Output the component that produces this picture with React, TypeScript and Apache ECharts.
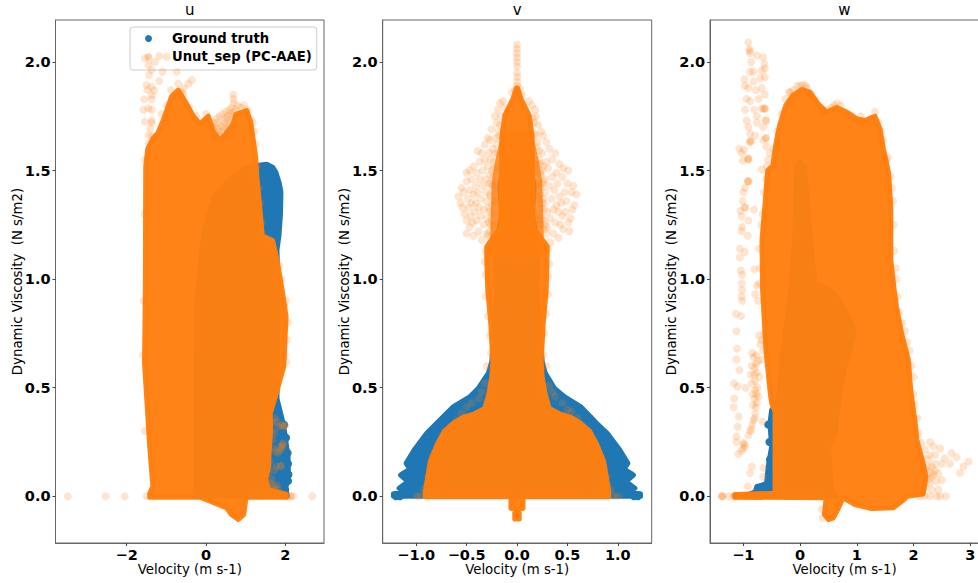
import React, { useEffect, useRef } from "react";
import * as echarts from "echarts";

const BLUE = "#1f77b4";
const ORANGE = "#ff7f0e";
const FONT = "DejaVu Sans";
const TRUTH_NAME = "Ground truth";
const PRED_NAME = "Unut_sep (PC-AAE)";
const panelTitles = ["u", "v", "w"];
const yTicks = [0, 0.5, 1, 1.5, 2];
const uTicks = [-2, 0, 2];
const vTicks = [-1, -0.5, 0, 0.5, 1];
const wTicks = [-1, 0, 1, 2, 3];

const uTruthOutline = [[-0.25,0.0],[-0.24,0.9],[-0.21,0.95],[-0.05,1.22],[0.2,1.375],[0.54,1.45],[1.03,1.515],[1.28,1.523],[1.53,1.529],[1.68,1.515],[1.76,1.493],[1.85,1.44],[1.89,1.4],[1.88,1.303],[1.84,1.2],[1.79,1.134],[1.82,0.95],[1.8,0.6],[1.79,0.45],[1.96,0.326],[2.04,0.22],[2.07,0.183],[2.08,0.085],[2.01,0.04],[2.05,0.0]];
const uTruthEdge = [[2.06,0.2],[2.07,0.15],[2.08,0.1],[2.07,0.07],[2.0,0.03],[2.02,0.27],[1.97,0.33]];
const uPredOutline = [[-1.42,-0.004],[-1.42,0.014],[-1.34,0.045],[-1.42,0.229],[-1.55,0.612],[-1.53,0.95],[-1.52,1.518],[-1.47,1.6],[-1.33,1.65],[-1.22,1.67],[-1.06,1.74],[-0.87,1.84],[-0.7,1.87],[-0.53,1.82],[-0.32,1.75],[-0.15,1.715],[0.06,1.75],[0.18,1.68],[0.35,1.64],[0.5,1.67],[0.67,1.71],[0.76,1.76],[1.03,1.776],[1.13,1.72],[1.25,1.564],[1.29,1.456],[1.37,1.303],[1.42,1.2],[1.68,1.178],[1.79,1.09],[1.92,0.95],[2.02,0.827],[1.96,0.597],[1.75,0.459],[1.62,0.382],[1.63,0.3],[1.59,0.2],[1.58,0.137],[1.5,0.075],[1.58,0.03],[2.02,0.01],[2.02,-0.004],[1.01,-0.004],[0.98,-0.048],[0.95,-0.084],[0.815,-0.107],[0.64,-0.084],[0.52,-0.053],[-0.15,-0.004]];
const uPredSparse = [[-1.54,2.017],[-1.45,2.02],[-1.18,2.027],[-0.99,2.024],[-1.29,2.0],[-1.45,1.986],[-1.1,1.955],[-1.37,1.963],[-1.44,1.94],[-1.5,1.894],[-1.37,1.886],[-1.48,1.87],[-1.31,1.868],[-1.18,1.912],[-0.74,1.955],[-0.7,1.9],[-0.36,1.917],[-0.445,1.9],[-0.555,1.88],[-0.57,1.85],[-1.37,1.848],[-1.56,1.828],[-1.37,1.828],[-1.58,1.78],[-1.45,1.786],[-1.37,1.78],[-1.54,1.725],[-1.37,1.73],[-1.37,1.72],[-1.41,1.694],[-1.45,1.664],[-1.37,1.659],[-1.45,1.625],[-3.49,0],[-2.53,0],[-2.05,0],[-1.5,0],[2.68,0],[2.14,0],[2.2,0],[2.05,0],[0.69,1.85],[0.69,1.83],[0.7,1.81],[0.14,1.7],[0.2,1.72],[0.27,1.74],[0.34,1.75],[0.42,1.76],[0.5,1.77],[0.58,1.78],[0.65,1.79],[0.75,1.78],[0.3,1.69],[0.38,1.71],[0.46,1.72],[0.54,1.73],[0.62,1.76],[0.24,1.67],[0.36,1.66],[0.5,1.69],[0.58,1.7],[0.1,1.72],[0.17,1.69],[0.22,1.7],[0.29,1.72],[0.33,1.68],[0.4,1.68],[0.44,1.7],[0.48,1.74],[0.55,1.75],[0.6,1.72],[0.66,1.75],[0.7,1.77],[0.8,1.8],[0.88,1.79],[0.96,1.8],[1.05,1.78],[1.12,1.74],[1.25,1.62],[1.22,1.68],[1.18,1.72],[1.29,1.52],[1.33,1.42],[1.37,1.35],[1.41,1.26],[1.61,0.4],[1.74,0.36],[1.82,0.32],[1.99,0.325],[1.99,0.325],[1.91,0.328],[1.93,0.325],[1.78,0.344],[1.95,0.244],[1.93,0.24],[1.87,0.229],[1.9,0.22],[1.74,0.206],[1.82,0.2],[1.85,0.21],[1.93,0.23],[1.61,0.16],[1.9,0.14],[1.88,0.14],[1.78,0.137],[1.57,0.106],[1.53,0.068],[1.655,0.037],[1.74,0.03],[1.82,0.034],[2.12,0],[2.02,0],[1.64,0.3],[1.68,0.26],[1.72,0.12],[1.66,0.08],[1.7,0.22],[1.7,0.05],[1.78,0.05],[1.62,0.06],[1.68,0.34],[1.72,0.29],[1.66,0.42],[2.06,0.8],[2.04,0.72],[1.99,0.65],[1.97,0.88],[2.02,0.9],[2.03,0.62],[1.85,1.06],[1.9,1.0],[-1.59,0.65],[-1.58,0.9],[-1.54,0.3],[-1.55,1.3],[-1.54,1.55],[-1.12,1.76],[-1.0,1.8],[-0.88,1.87],[-0.62,1.86],[-0.42,1.79],[-0.25,1.75],[0.0,1.76]];

const vTruthOutline = [[-1.225,0.0],[-1.226,0.012],[-1.03,0.02],[-1.17,0.037],[-1.08,0.068],[-1.155,0.098],[-1.06,0.126],[-1.1,0.152],[-1.02,0.213],[-0.896,0.29],[-0.797,0.336],[-0.63,0.413],[-0.466,0.459],[-0.383,0.498],[-0.284,0.567],[-0.25,0.62],[-0.2,0.95],[-0.2,1.18],[-0.15,1.3],[-0.17,1.425],[-0.135,1.533],[0.13,1.533],[0.17,1.425],[0.15,1.3],[0.2,1.18],[0.2,0.95],[0.25,0.62],[0.28,0.567],[0.37,0.498],[0.47,0.459],[0.63,0.413],[0.79,0.336],[0.895,0.29],[1.02,0.213],[1.1,0.152],[1.06,0.126],[1.155,0.098],[1.08,0.068],[1.17,0.037],[1.03,0.02],[1.225,0.012],[1.225,0.0]];
const vTruthEdge = [[-1.2,0],[-1.16,0],[-1.13,0.035],[-1.12,0.1],[-1.06,0.145],[-1.0,0.19],[-0.96,0.22],[-0.88,0.27],[-0.82,0.31],[-0.72,0.36],[1.2,0],[1.16,0],[1.13,0.035],[1.12,0.1],[1.06,0.145],[1.0,0.19],[0.96,0.22],[0.88,0.27],[0.82,0.31],[0.72,0.36]];
const vPredOutline = [[-0.91,-0.002],[-0.91,0.02],[-0.86,0.16],[-0.79,0.24],[-0.72,0.3],[-0.62,0.34],[-0.53,0.364],[-0.42,0.38],[-0.32,0.405],[-0.28,0.47],[-0.25,0.55],[-0.24,0.62],[-0.26,0.797],[-0.29,0.95],[-0.3,1.1],[-0.3,1.15],[-0.24,1.19],[-0.16,1.24],[-0.15,1.66],[-0.12,1.755],[-0.04,1.83],[-0.006,1.88],[0.006,1.88],[0.04,1.83],[0.12,1.755],[0.15,1.66],[0.16,1.24],[0.24,1.19],[0.3,1.15],[0.29,0.95],[0.26,0.797],[0.24,0.62],[0.25,0.55],[0.28,0.47],[0.32,0.405],[0.42,0.38],[0.53,0.364],[0.62,0.34],[0.72,0.3],[0.79,0.24],[0.86,0.16],[0.91,0.02],[0.91,-0.002],[0.06,-0.002],[0.06,-0.055],[0.022,-0.06],[0.022,-0.105],[-0.022,-0.105],[-0.022,-0.06],[-0.06,-0.055],[-0.06,-0.002]];
const vPredDenseOutline = [[-0.27,1.1],[-0.26,1.3],[-0.25,1.45],[-0.21,1.56],[-0.15,1.68],[0.15,1.68],[0.21,1.56],[0.25,1.45],[0.26,1.3],[0.27,1.1]];
const vPredBand = [[-0.29,1.2],[-0.28,1.26],[-0.27,1.22],[-0.27,1.31],[-0.26,1.38],[-0.26,1.44],[-0.25,1.27],[-0.25,1.34],[-0.25,1.5],[-0.24,1.41],[-0.24,1.47],[-0.23,1.54],[-0.23,1.24],[-0.22,1.3],[-0.22,1.58],[-0.21,1.43],[-0.21,1.36],[-0.2,1.62],[-0.2,1.52],[-0.19,1.26],[-0.18,1.66],[-0.18,1.4],[-0.17,1.71],[-0.17,1.5],[-0.16,1.75],[0.29,1.21],[0.28,1.25],[0.27,1.23],[0.27,1.32],[0.26,1.37],[0.26,1.45],[0.25,1.28],[0.25,1.35],[0.25,1.5],[0.24,1.42],[0.24,1.48],[0.23,1.53],[0.23,1.25],[0.22,1.29],[0.22,1.59],[0.21,1.44],[0.21,1.37],[0.2,1.63],[0.2,1.53],[0.19,1.27],[0.18,1.67],[0.18,1.39],[0.17,1.72],[0.17,1.51],[0.16,1.74],[-0.31,1.13],[-0.32,1.08],[-0.31,1.02],[-0.31,0.92],[-0.29,0.83],[-0.27,0.74],[-0.26,0.66],[0.31,1.14],[0.32,1.07],[0.31,1.01],[0.31,0.93],[0.29,0.84],[0.27,0.75],[0.26,0.65]];
const vPredSparse = [[0,2.08],[0,2.06],[0,2.04],[0,2.02],[0,2.0],[0,1.98],[0,1.95],[0.005,1.93],[0,1.91],[0,1.89],[-0.19,1.78],[-0.17,1.81],[-0.14,1.82],[-0.12,1.79],[0.12,1.82],[0.15,1.8],[0.18,1.78],[-0.05,1.86],[0.05,1.85],[-0.02,1.87],[0.03,1.88],
[-0.58,1.38],[-0.56,1.35],[-0.55,1.42],[-0.54,1.33],[-0.53,1.4],[-0.52,1.3],[-0.5,1.49],[-0.5,1.45],[-0.5,1.27],[-0.5,1.21],[-0.49,1.37],[-0.48,1.33],[-0.47,1.5],[-0.47,1.41],[-0.47,1.24],[-0.46,1.29],[-0.45,1.46],[-0.45,1.35],[-0.44,1.26],[-0.43,1.52],[-0.43,1.39],[-0.43,1.2],[-0.42,1.31],[-0.41,1.43],[-0.41,1.35],[-0.4,1.49],[-0.4,1.27],[-0.39,1.59],[-0.39,1.4],[-0.38,1.33],[-0.38,1.22],[-0.37,1.46],[-0.37,1.54],[-0.36,1.37],[-0.36,1.29],[-0.35,1.18],[-0.35,1.58],[-0.34,1.43],[-0.34,1.5],[-0.33,1.32],[-0.33,1.25],[-0.32,1.62],[-0.32,1.55],[-0.31,1.4],[-0.31,1.46],[-0.3,1.36],[-0.3,1.28],[-0.3,1.21],[-0.29,1.65],[-0.29,1.52],[-0.28,1.58],[-0.28,1.44],[-0.28,1.33],[-0.27,1.64],[-0.27,1.48],[-0.27,1.39],[-0.26,1.25],[-0.26,1.55],[-0.25,1.69],[-0.25,1.3],[-0.24,1.6],[-0.24,1.43],[-0.23,1.51],[-0.22,1.36],[-0.21,1.65],[-0.2,1.72],[-0.19,1.58],[-0.22,1.75],[-0.18,1.68],
[0.59,1.39],[0.57,1.34],[0.56,1.43],[0.55,1.32],[0.54,1.4],[0.53,1.28],[0.51,1.5],[0.5,1.44],[0.51,1.26],[0.52,1.22],[0.49,1.36],[0.48,1.31],[0.46,1.51],[0.47,1.4],[0.46,1.23],[0.45,1.29],[0.45,1.47],[0.44,1.35],[0.43,1.25],[0.42,1.53],[0.42,1.38],[0.41,1.19],[0.41,1.31],[0.4,1.44],[0.39,1.34],[0.39,1.49],[0.38,1.26],[0.38,1.58],[0.37,1.41],[0.36,1.32],[0.36,1.21],[0.35,1.47],[0.35,1.55],[0.34,1.37],[0.33,1.28],[0.33,1.17],[0.32,1.6],[0.32,1.43],[0.31,1.51],[0.3,1.31],[0.3,1.24],[0.29,1.63],[0.29,1.54],[0.28,1.4],[0.28,1.46],[0.27,1.35],[0.27,1.27],[0.26,1.66],[0.26,1.52],[0.25,1.58],[0.25,1.44],[0.24,1.33],[0.24,1.68],[0.23,1.49],[0.23,1.39],[0.22,1.25],[0.22,1.55],[0.21,1.71],[0.2,1.3],[0.2,1.61],[0.19,1.43],[0.19,1.75],[0.18,1.66],
[-0.99,0],[-0.96,0],[-0.92,0.03],[-0.9,0.05],[-0.88,0.09],[-0.86,0.13],[-0.84,0.18],[-0.82,0.2],[-0.8,0.12],[-0.78,0.08],[-0.76,0.15],[-0.74,0.22],[-0.7,0.05],[-0.68,0.11],[-0.72,0.26],[-0.69,0.3],[-0.66,0.32],[-0.6,0.35],[-0.55,0.38],[-0.5,0.41],[-0.45,0.43],[-0.38,0.45],[-0.35,0.48],[-0.32,0.52],[-0.3,0.6],
[1.0,0],[0.96,0],[0.93,0.03],[0.9,0.05],[0.89,0.09],[0.86,0.13],[0.83,0.18],[0.81,0.2],[0.8,0.12],[0.77,0.08],[0.75,0.15],[0.73,0.22],[0.7,0.05],[0.67,0.11],[0.73,0.27],[0.7,0.3],[0.65,0.32],[0.6,0.36],[0.54,0.39],[0.5,0.4],[0.45,0.43],[0.38,0.46],[0.35,0.48],[0.32,0.51],[0.29,0.6]];

const wTruthOutline = [[-1.0,0.0],[-0.79,0.02],[-0.76,0.045],[-0.59,0.055],[-0.56,0.137],[-0.5,0.228],[-0.53,0.336],[-0.5,0.397],[-0.38,0.443],[-0.32,0.643],[-0.2,0.873],[-0.16,0.95],[-0.09,1.21],[-0.06,1.518],[0,1.538],[0.076,1.518],[0.176,1.21],[0.264,0.98],[0.5,0.957],[0.7,0.9],[0.91,0.797],[0.95,0.735],[0.79,0.597],[0.68,0.443],[0.62,0.29],[0.5,0.229],[0.56,0.03],[0.646,0.0]];
const wTruthEdge = [[-0.56,0.33],[-0.54,0.25],[-0.53,0.17],[-0.55,0.1],[-0.62,0.05],[-0.7,0.04]];
const wPredOutline = [[-1.15,-0.004],[-1.15,0.008],[-0.44,0.014],[-0.44,0.39],[-0.5,0.428],[-0.53,0.49],[-0.6,0.674],[-0.66,0.95],[-0.67,1.18],[-0.61,1.364],[-0.57,1.5],[-0.48,1.523],[-0.42,1.63],[-0.36,1.707],[-0.25,1.8],[-0.13,1.845],[0.03,1.873],[0.176,1.861],[0.32,1.807],[0.47,1.769],[0.646,1.79],[0.82,1.769],[1.0,1.738],[1.145,1.73],[1.32,1.75],[1.41,1.69],[1.47,1.6],[1.56,1.49],[1.6,1.333],[1.6,1.088],[1.66,0.95],[1.7,0.873],[1.79,0.75],[1.91,0.628],[1.95,0.49],[2.03,0.336],[2.06,0.259],[2.17,0.152],[2.22,0.09],[2.17,0.01],[1.89,0.0],[1.8,-0.022],[1.645,-0.053],[1.26,-0.056],[0.97,-0.038],[0.76,-0.007],[0.68,-0.053],[0.587,-0.099],[0.5,-0.107],[0.43,-0.084],[0.46,-0.007]];
const wPredSparse = [[-0.91,2.09],[-0.89,2.06],[-0.88,2.04],[-0.89,2.05],[-0.76,2.03],[-0.65,2.02],[-0.63,1.99],[-0.86,2.0],[-0.675,1.96],[-0.62,1.97],[-0.82,1.955],[-0.88,1.955],[-0.7,1.925],[-0.62,1.93],[-0.98,1.92],[-0.97,1.89],[-0.82,1.91],[-0.91,1.88],[-0.675,1.88],[-0.62,1.85],[-0.78,1.87],[-0.73,1.83],[-0.94,1.83],[-0.88,1.82],[-0.62,1.785],[-0.62,1.785],[-0.64,1.785],[-0.675,1.785],[-0.97,1.78],[-0.81,1.78],[-0.76,1.75],[-0.94,1.73],[-0.6,1.73],[-0.6,1.73],[-0.65,1.7],[-0.91,1.7],[-0.76,1.72],[-0.88,1.67],[-0.79,1.66],[-0.6,1.65],[-0.6,1.65],[-0.65,1.64],[-0.87,1.635],[-0.87,1.635],[-0.89,1.63],[-0.59,1.61],[-1.07,1.6],[-0.99,1.595],[-1.03,1.58],[-0.91,1.555],[-0.91,1.555],[-0.92,1.55],[-1.01,1.545],[-0.56,1.55],[-0.675,1.505],[-0.92,1.45],[-0.92,1.45],[-0.9,1.45],[-0.56,1.44],[-0.97,1.42],[-1.0,1.4],[-1.01,1.36],[-0.97,1.33],[-0.97,1.33],[-1.05,1.315],[-0.81,1.32],[-1.03,1.29],[-0.91,1.27],[-1.02,1.24],[-1.03,1.22],[-0.92,1.2],[-1.06,1.14],[-0.97,1.125],[-1.06,1.1],[-1.04,1.04],[-0.8,1.045],[-1.02,1.02],[-1.03,0.98],[-0.76,0.97],[-1.02,0.95],[-1.03,0.92],[-1.02,0.9],[-0.79,0.93],[-1.13,0.84],[-1.04,0.83],[-1.12,0.76],[-1.11,0.68],[-1.12,0.63],[-1.07,0.58],[-1.16,0.52],[-1.1,0.505],[-0.96,0.5],[-1.16,0.45],[-1.17,0.41],[-1.08,0.367],[-1.1,0.32],[-1.12,0.275],[-1.12,0.25],[-1.0,0.245],[-0.97,0.23],[-0.98,0.24],[-1.03,0.21],[-1.0,0.22],[-1.09,0.195],[-0.88,0.3],[-0.86,0.31],[-0.91,0.28],[-0.82,0.35],[-0.84,0.33],[-0.79,0.38],[-0.8,0.36],[-0.76,0.43],[-0.78,0.41],[-0.79,0.49],[-0.77,0.47],[-0.73,0.46],[-0.85,0.52],[-0.79,0.53],[-0.76,0.57],[-0.85,0.6],[-0.8,0.59],[-0.82,0.64],[-0.78,0.61],[-0.65,0.67],[-0.675,0.63],[-0.7,0.7],[-0.72,0.74],[-0.68,0.72],[-0.63,0.75],[-0.66,0.344],[-0.85,0.137],[-0.88,0.106],[-0.92,0.045],[-0.65,0.13],[-0.65,0.09],[-0.83,0.42],[-0.8,0.45],[-0.81,0.56],[-0.75,0.5],[-0.77,0.65],[-0.74,0.62],[-0.72,0.55],[-0.83,0.47],[-0.87,0.56],[-0.84,0.66],
[2.97,0.16],[2.88,0.137],[2.76,0.18],[2.82,0.107],[2.67,0.2],[2.47,0.22],[2.29,0.25],[2.14,0.245],[2.2,0.215],[2.38,0.19],[2.55,0.175],[2.64,0.15],[2.5,0.15],[2.38,0.15],[2.28,0.19],[2.44,0.105],[2.5,0.075],[2.32,0.09],[2.44,0.03],[2.32,0.03],[2.29,0.06],[2.2,0.045],[2.06,0.045],[2.57,0],[2.47,0],[2.41,0],[2.29,0],[2.2,0],[2.11,0],[2.38,0.12],[2.32,0.137],[2.26,0.17],[2.23,0.12],[2.35,0.23],[2.14,0.18],[2.4,0.07],[2.3,0.11],[2.27,0.08],[2.35,0.1],[2.25,0.14],[-1.38,0],[-1.38,0],[-1.36,0],[-1.26,0],[-1.17,0],[-1.15,0],[-1.13,0],[-1.08,0],[-0.98,0],[-0.9,0],[-0.8,0],[-0.75,0],
[-0.26,1.83],[-0.2,1.86],[-0.12,1.87],[-0.05,1.89],[0.05,1.895],[0.12,1.88],[0.2,1.85],[0.3,1.8],[0.4,1.77],[0.55,1.79],[0.65,1.81],[0.72,1.8],[0.8,1.75],[0.92,1.75],[1.02,1.73],[1.1,1.71],[1.2,1.72],[1.32,1.77],[1.38,1.72],[1.46,1.64],[1.55,1.56],[1.62,1.42],[1.65,1.25],[1.66,1.13],[1.7,1.0],[1.75,0.85],[1.85,0.76],[1.93,0.67],[2.0,0.55],[2.02,0.42],[-0.4,1.68],[-0.46,1.6],[-0.53,1.58],[-0.58,1.52],[-0.64,1.4],[-0.68,1.25],[-0.72,1.14],[0.4,-0.1],[0.38,-0.06],[-0.7,1.05],[-0.72,0.98],[-0.74,0.9],[-0.66,1.3],[-0.6,1.46],[-0.33,1.76],[-0.17,1.86],[0.0,1.89],[0.1,1.89],[0.26,1.83],[0.48,1.78],[0.6,1.8],[0.87,1.76],[1.07,1.75],[1.26,1.74],[1.43,1.68],[1.52,1.55],[1.6,1.47],[1.64,1.36],[1.69,1.05],[1.72,0.92],[1.8,0.8],[1.89,0.71],[1.96,0.6],[2.0,0.47],[2.07,0.36],[2.09,0.29]];

const toSeries = (xs: number[][], color: string, opacity: number, name: string, stroke: number) => ({
  type: "custom",
  name,
  silent: true,
  data: xs,
  encode: { x: 0, y: 1 },
  renderItem: (params: any, api: any) => {
    if (params.dataIndex !== 0) return null;
    return {
      type: "polygon",
      shape: { points: xs.map((p) => api.coord(p)) },
      style: { fill: color, opacity, stroke: stroke ? color : "none", lineWidth: stroke, lineJoin: "round" },
    };
  },
});

const scatter = (name: string, data: number[][], color: string, opacity: number) => ({
  type: "scatter",
  name,
  data,
  symbol: "circle",
  symbolSize: 8,
  silent: true,
  itemStyle: { color, opacity, borderWidth: 0 },
});

const panels = [
  { left: 55.5, width: 268.5, min: -3.796, max: 2.976, ticks: uTicks, dec: 0, truth: uTruthOutline, edge: uTruthEdge, pred: [uPredOutline], sparse: uPredSparse },
  { left: 382.7, width: 269, min: -1.332, max: 1.336, ticks: vTicks, dec: 1, truth: vTruthOutline, edge: vTruthEdge, pred: [vPredOutline, vPredDenseOutline], sparse: [...vPredSparse, ...vPredBand] },
  { left: 710, width: 269, min: -1.586, max: 3.154, ticks: wTicks, dec: 0, truth: wTruthOutline, edge: wTruthEdge, pred: [wPredOutline], sparse: wPredSparse },
];

const fmt = (v: number, d: number) => v.toFixed(d).replace("-", "\u2212");

export default function App() {
  const ref = useRef<HTMLDivElement>(null);
  useEffect(() => {
    const chart = echarts.init(ref.current!, null, { renderer: "svg" });
    const series: any[] = [];
    panels.forEach((p, i) => {
      const axes = { xAxisIndex: i, yAxisIndex: i };
      series.push({ ...toSeries(p.truth, BLUE, 1, "truth area " + i, 5), ...axes, z: 2 });
      series.push({ ...scatter(TRUTH_NAME, p.edge, BLUE, 1), ...axes, z: 3 });
      p.pred.forEach((o, j) => {
        series.push({ ...toSeries(o, ORANGE, j === 0 ? 0.97 : 0.8, "pred area " + i + j, j === 0 ? 5 : 0), ...axes, z: j === 0 ? 5 : 4 });
      });
      series.push({ ...scatter(PRED_NAME, p.sparse, ORANGE, 0.2), ...axes, z: 6 });
    });
    const axisText = { color: "#000", fontFamily: FONT };
    chart.setOption({
      animation: false,
      backgroundColor: "#fff",
      title: panels.map((p, i) => ({
        text: panelTitles[i],
        left: p.left + p.width / 2,
        top: 2,
        padding: 0,
        textAlign: "center",
        textStyle: { fontFamily: FONT, fontSize: 15, fontWeight: "normal", color: "#000" },
      })),
      legend: {
        data: [TRUTH_NAME, PRED_NAME],
        left: 130,
        top: 27,
        orient: "vertical",
        icon: "circle",
        itemWidth: 7,
        itemHeight: 7,
        itemGap: 5,
        padding: [5, 5, 7, 15],
        backgroundColor: "rgba(255,255,255,0.8)",
        borderColor: "#ccc",
        borderWidth: 1,
        borderRadius: 3,
        selectedMode: false,
        textStyle: { fontFamily: FONT, fontSize: 13.2, fontWeight: "bold", color: "#000", padding: [0, 0, 0, 15] },
      },
      grid: panels.map((p) => ({
        left: p.left,
        width: p.width,
        top: 20,
        height: 523,
        show: true,
        outerBoundsMode: "none",
        borderColor: "#666",
        borderWidth: 1,
        backgroundColor: "transparent",
      })),
      xAxis: panels.map((p, i) => ({
        type: "value",
        gridIndex: i,
        min: p.min,
        max: p.max,
        name: "Velocity (m s-1)",
        nameLocation: "middle",
        nameMoveOverlap: false,
        nameGap: 20,
        nameTextStyle: { ...axisText, fontSize: 13.3 },
        splitLine: { show: false },
        axisLine: { show: true, onZero: false, lineStyle: { color: "#666" } },
        axisTick: { show: true, length: 3, customValues: p.ticks, lineStyle: { color: "#444" } },
        axisLabel: {
          ...axisText,
          customValues: p.ticks,
          fontSize: 14.5,
          fontWeight: "bold",
          margin: 4,
          formatter: (v: number) => fmt(v, p.dec),
        },
      })),
      yAxis: panels.map((p, i) => ({
        type: "value",
        gridIndex: i,
        min: -0.215,
        max: 2.193,
        name: "Dynamic Viscosity  (N s/m2)",
        nameLocation: "middle",
        nameMoveOverlap: false,
        nameGap: 32,
        nameTextStyle: { ...axisText, fontSize: 13.3 },
        splitLine: { show: false },
        axisLine: { show: true, onZero: false, lineStyle: { color: "#666" } },
        axisTick: { show: true, length: 3, customValues: yTicks, lineStyle: { color: "#444" } },
        axisLabel: {
          ...axisText,
          customValues: yTicks,
          fontSize: 14.5,
          fontWeight: "bold",
          margin: 5,
          formatter: (v: number) => fmt(v, 1),
        },
      })),
      series,
    });
    return () => chart.dispose();
  }, []);
  return <div ref={ref} style={{ position: "absolute", left: 0, top: 0, width: 978, height: 583 }} />;
}
